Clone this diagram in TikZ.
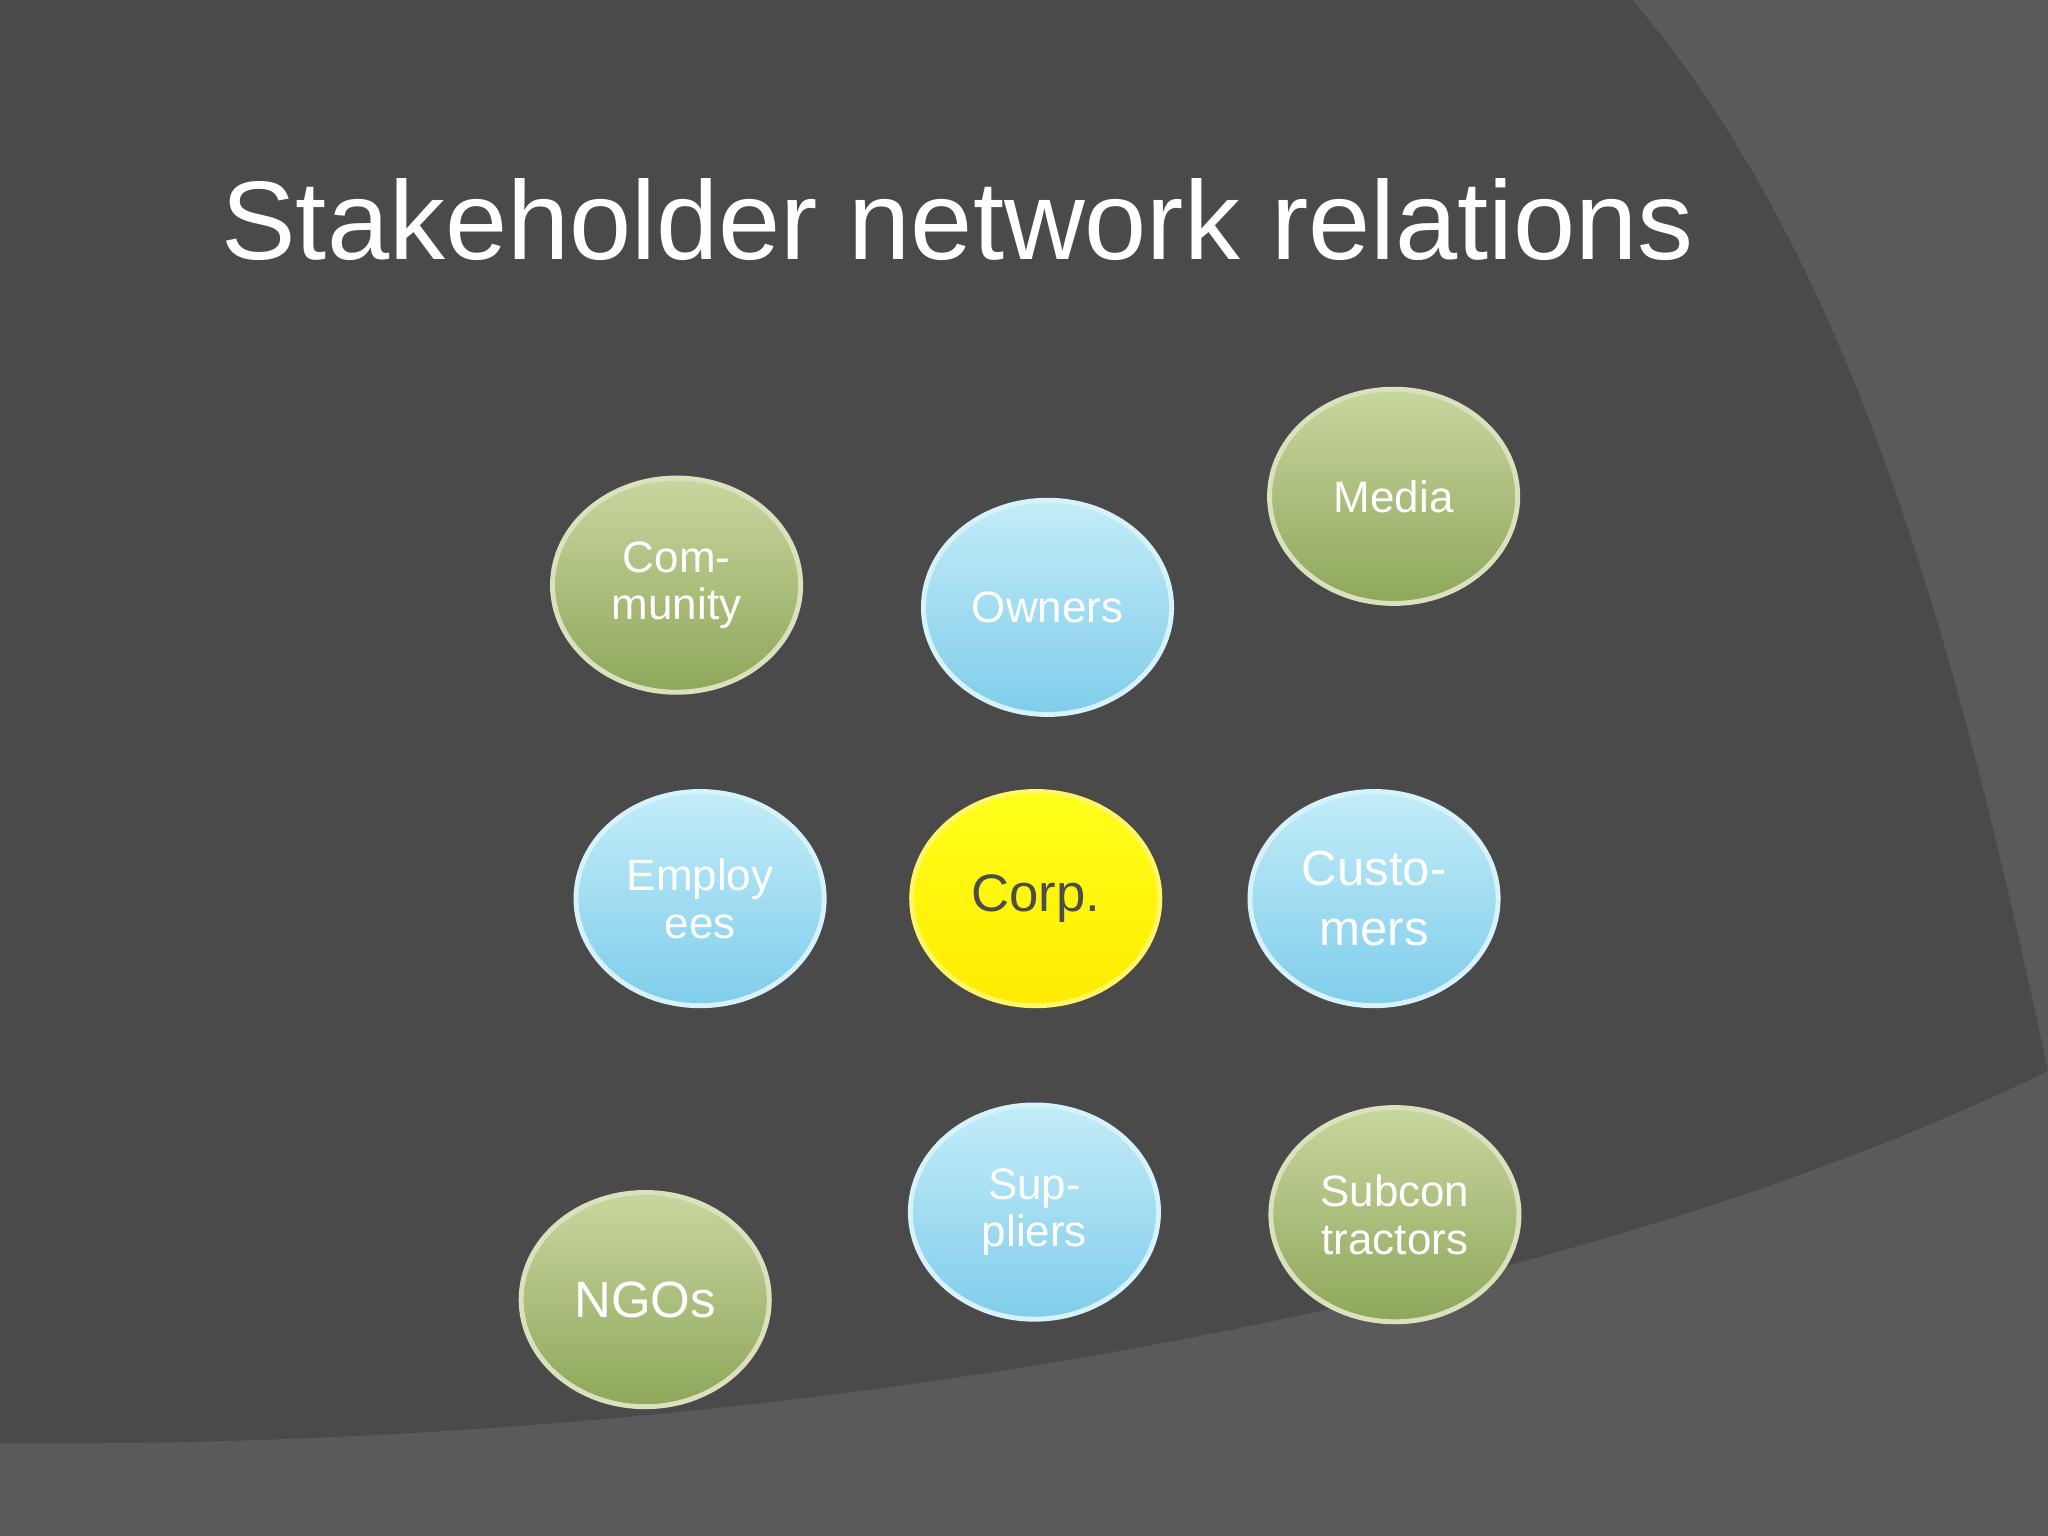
\documentclass[tikz,border=0pt]{standalone}
\usepackage{fontspec}
\setmainfont{Liberation Sans}
\usetikzlibrary{shapes.geometric,arrows.meta}
\definecolor{bgd}{HTML}{4A4A4A}
\definecolor{bgl}{HTML}{5A5A5A}
\definecolor{arr}{HTML}{7FB2CA}
\definecolor{gtop}{HTML}{C9D6A0}
\definecolor{gbot}{HTML}{8EA75A}
\definecolor{btop}{HTML}{C4ECF8}
\definecolor{bbot}{HTML}{7FCDEB}
\definecolor{bigc}{HTML}{C6C8CE}
\definecolor{innc}{HTML}{DCDCCB}
\pgfdeclarelayer{back}
\pgfdeclarelayer{edges}
\pgfsetlayers{back,edges,main}
\tikzset{
 x=0.01306cm,y=-0.01306cm,
 stake/.style={ellipse,minimum width=190*0.01306cm,minimum height=164*0.01306cm,draw=#1,line width=1.4pt,text=white,font=\fontsize{12.5}{13.5}\selectfont,align=center,inner sep=0pt},
 green/.style={stake=gtop!70!white,top color=gtop,bottom color=gbot},
 blue/.style={stake=btop!70!white,top color=btop,bottom color=bbot},
 link/.style={arr,line width=1.3pt,{Stealth[length=7pt,width=6pt,open]}-{Stealth[length=7pt,width=6pt,open]},shorten >=3pt,shorten <=3pt}
}
\begin{document}
\begin{tikzpicture}
\fill[bgd] (0,0) rectangle (1568,1176);
\useasboundingbox (0,0) rectangle (1568,1176);
\fill[bgl] (1250,0) .. controls (1420,200) and (1500,500) .. (1568,820) -- (1568,0) -- cycle;
\fill[bgl] (0,1105) .. controls (600,1110) and (1200,1000) .. (1568,820) -- (1568,1176) -- (0,1176) -- cycle;
\node[text=white,font=\fontsize{31.8}{38}\selectfont,anchor=west] (title) at (160,168) {Stakeholder network relations};
\begin{pgfonlayer}{back}
\node[ellipse,minimum width=956*0.01306cm,minimum height=872*0.01306cm,fill=bigc,draw=gray!75!white,line width=1.5pt] (big) at (792,692) {};
\node[ellipse,minimum width=700*0.01306cm,minimum height=630*0.01306cm,fill=innc,draw=cyan!60!gray,line width=0.6pt] (inner) at (792,695) {};
\end{pgfonlayer}
\node[green] (com) at (518,448) {Com-\\munity};
\node[blue] (own) at (802,465) {Owners};
\node[green] (med) at (1067,380) {Media};
\node[blue] (emp) at (536,688) {Employ\\ees};
\node[stake=yellow!60!white,top color=yellow!90!white,bottom color=yellow!85!orange,text=gray!60!black,font=\fontsize{15}{17}\selectfont] (corp) at (793,688) {Corp.};
\node[blue,font=\fontsize{14}{17}\selectfont] (cus) at (1052,688) {Custo-\\mers};
\node[green,font=\fontsize{14.5}{17}\selectfont] (ngo) at (494,995) {NGOs};
\node[blue] (sup) at (792,928) {Sup-\\pliers};
\node[green] (sub) at (1068,930) {Subcon\\tractors};
\begin{pgfonlayer}{edges}
\draw[link] (com.42) -- (med.180);
\draw[link] (com.5) -- (own.165);
\draw[link] (com.-88) -- (emp.98);
\draw[link] (com.-150) -- (ngo.128);
\draw[link] (med.-30) -- (sub.35);
\draw[link] (ngo.-12) -- (sub.-150);
\draw[link] (own.-115) -- (ngo.65);
\draw[link] (med.-150) -- (emp.40);
\draw[link] (med.-115) -- (sup.60);
\draw[link] (med.-138) -- (ngo.55);
\draw[link] (cus.-145) -- (ngo.28);
\draw[link] (sup.180) -- (ngo.15);
\foreach \a/\b in {com/cus,com/corp,own/med,own/corp,own/emp,own/cus,
 med/cus,med/corp,emp/ngo,corp/emp,corp/cus,corp/sup,corp/ngo,corp/sub,
 cus/sup,cus/sub,sup/sub}
 \draw[link] (\a) -- (\b);
\end{pgfonlayer}
\end{tikzpicture}
\end{document}
